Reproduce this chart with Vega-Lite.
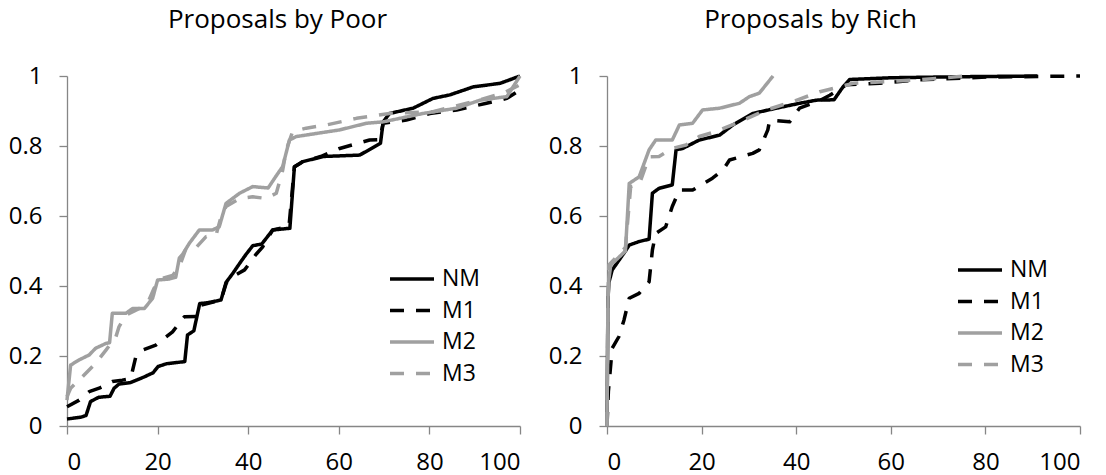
{
  "$schema": "https://vega.github.io/schema/vega-lite/v6.json",
  "padding": {"left": 8, "top": 7, "right": 5, "bottom": 5},
  "spacing": 26,
  "config": {
    "view": {"stroke": null},
    "font": "Open Sans",
    "axis": {
      "grid": false,
      "domainColor": "#868686",
      "tickColor": "#868686",
      "domainWidth": 1.3,
      "tickWidth": 1.3,
      "tickSize": 8,
      "labelPadding": 17,
      "labelFont": "Open Sans",
      "labelFontSize": 24,
      "labelColor": "#000000",
      "title": null
    },
    "axisX": {"labelPadding": 16},
    "title": {"font": "Open Sans", "fontSize": 26, "fontWeight": "normal", "color": "#000000", "anchor": "middle", "baseline": "alphabetic"},
    "legend": {
      "orient": "none",
      "title": null,
      "symbolType": "M-2,0H2",
      "symbolSize": 484,
      "symbolStrokeWidth": 3.5,
      "labelFont": "Open Sans",
      "labelFontSize": 23,
      "labelColor": "#000000",
      "labelOffset": 17,
      "rowPadding": 6.5
    }
  },
  "datasets": {
    "poor": [
      {"series": "NM", "x": 0, "y": 0.02}, {"series": "NM", "x": 3, "y": 0.025}, {"series": "NM", "x": 4.2, "y": 0.03}, {"series": "NM", "x": 5.2, "y": 0.07}, {"series": "NM", "x": 7, "y": 0.082}, {"series": "NM", "x": 9.5, "y": 0.085}, {"series": "NM", "x": 10.4, "y": 0.108}, {"series": "NM", "x": 11.5, "y": 0.12}, {"series": "NM", "x": 14, "y": 0.124}, {"series": "NM", "x": 17, "y": 0.14}, {"series": "NM", "x": 19, "y": 0.152}, {"series": "NM", "x": 20.1, "y": 0.17}, {"series": "NM", "x": 22, "y": 0.178}, {"series": "NM", "x": 26, "y": 0.184}, {"series": "NM", "x": 26.6, "y": 0.26}, {"series": "NM", "x": 28, "y": 0.272}, {"series": "NM", "x": 29.3, "y": 0.35}, {"series": "NM", "x": 31, "y": 0.352}, {"series": "NM", "x": 34, "y": 0.36}, {"series": "NM", "x": 35.1, "y": 0.41}, {"series": "NM", "x": 36.6, "y": 0.436}, {"series": "NM", "x": 38.4, "y": 0.47}, {"series": "NM", "x": 39.5, "y": 0.49}, {"series": "NM", "x": 41, "y": 0.515}, {"series": "NM", "x": 43, "y": 0.52}, {"series": "NM", "x": 45.4, "y": 0.56}, {"series": "NM", "x": 49.2, "y": 0.565}, {"series": "NM", "x": 50.2, "y": 0.741}, {"series": "NM", "x": 52, "y": 0.755}, {"series": "NM", "x": 56.5, "y": 0.77}, {"series": "NM", "x": 64.6, "y": 0.774}, {"series": "NM", "x": 66.8, "y": 0.79}, {"series": "NM", "x": 69.2, "y": 0.808}, {"series": "NM", "x": 69.8, "y": 0.869}, {"series": "NM", "x": 71.2, "y": 0.893}, {"series": "NM", "x": 76.4, "y": 0.908}, {"series": "NM", "x": 80.8, "y": 0.936}, {"series": "NM", "x": 84.5, "y": 0.946}, {"series": "NM", "x": 89.7, "y": 0.969}, {"series": "NM", "x": 95.6, "y": 0.979}, {"series": "NM", "x": 100, "y": 1.0},
      {"series": "M1", "x": 0, "y": 0.055}, {"series": "M1", "x": 2.7, "y": 0.074}, {"series": "M1", "x": 4.9, "y": 0.098}, {"series": "M1", "x": 7.1, "y": 0.108}, {"series": "M1", "x": 10, "y": 0.127}, {"series": "M1", "x": 12.2, "y": 0.131}, {"series": "M1", "x": 14, "y": 0.135}, {"series": "M1", "x": 14.5, "y": 0.16}, {"series": "M1", "x": 15.2, "y": 0.198}, {"series": "M1", "x": 16.7, "y": 0.217}, {"series": "M1", "x": 19.6, "y": 0.231}, {"series": "M1", "x": 23.3, "y": 0.269}, {"series": "M1", "x": 25.9, "y": 0.312}, {"series": "M1", "x": 28.5, "y": 0.313}, {"series": "M1", "x": 29.5, "y": 0.345}, {"series": "M1", "x": 31, "y": 0.35}, {"series": "M1", "x": 34, "y": 0.36}, {"series": "M1", "x": 35.2, "y": 0.41}, {"series": "M1", "x": 37, "y": 0.43}, {"series": "M1", "x": 39.2, "y": 0.446}, {"series": "M1", "x": 41.7, "y": 0.49}, {"series": "M1", "x": 43.2, "y": 0.512}, {"series": "M1", "x": 45.4, "y": 0.56}, {"series": "M1", "x": 49, "y": 0.57}, {"series": "M1", "x": 50.2, "y": 0.74}, {"series": "M1", "x": 52, "y": 0.755}, {"series": "M1", "x": 56, "y": 0.77}, {"series": "M1", "x": 60.2, "y": 0.793}, {"series": "M1", "x": 66.8, "y": 0.817}, {"series": "M1", "x": 69, "y": 0.818}, {"series": "M1", "x": 69.8, "y": 0.865}, {"series": "M1", "x": 74.9, "y": 0.874}, {"series": "M1", "x": 80.1, "y": 0.893}, {"series": "M1", "x": 86, "y": 0.903}, {"series": "M1", "x": 92.6, "y": 0.922}, {"series": "M1", "x": 97.1, "y": 0.936}, {"series": "M1", "x": 100, "y": 0.96},
      {"series": "M2", "x": 0, "y": 0.074}, {"series": "M2", "x": 0.8, "y": 0.174}, {"series": "M2", "x": 2.7, "y": 0.189}, {"series": "M2", "x": 4.9, "y": 0.203}, {"series": "M2", "x": 6.3, "y": 0.222}, {"series": "M2", "x": 8.6, "y": 0.236}, {"series": "M2", "x": 9.4, "y": 0.238}, {"series": "M2", "x": 10, "y": 0.322}, {"series": "M2", "x": 13, "y": 0.322}, {"series": "M2", "x": 14.5, "y": 0.336}, {"series": "M2", "x": 17.1, "y": 0.336}, {"series": "M2", "x": 18.9, "y": 0.365}, {"series": "M2", "x": 20, "y": 0.417}, {"series": "M2", "x": 22.6, "y": 0.42}, {"series": "M2", "x": 24, "y": 0.425}, {"series": "M2", "x": 24.8, "y": 0.48}, {"series": "M2", "x": 25.5, "y": 0.49}, {"series": "M2", "x": 27, "y": 0.522}, {"series": "M2", "x": 29.2, "y": 0.56}, {"series": "M2", "x": 32.1, "y": 0.56}, {"series": "M2", "x": 33.6, "y": 0.569}, {"series": "M2", "x": 35.1, "y": 0.636}, {"series": "M2", "x": 38.1, "y": 0.665}, {"series": "M2", "x": 41, "y": 0.684}, {"series": "M2", "x": 44.4, "y": 0.68}, {"series": "M2", "x": 46.2, "y": 0.715}, {"series": "M2", "x": 47.6, "y": 0.741}, {"series": "M2", "x": 49.1, "y": 0.817}, {"series": "M2", "x": 50.6, "y": 0.827}, {"series": "M2", "x": 60.2, "y": 0.846}, {"series": "M2", "x": 66.1, "y": 0.865}, {"series": "M2", "x": 69.8, "y": 0.869}, {"series": "M2", "x": 78.6, "y": 0.893}, {"series": "M2", "x": 86, "y": 0.908}, {"series": "M2", "x": 91.2, "y": 0.931}, {"series": "M2", "x": 97.1, "y": 0.941}, {"series": "M2", "x": 100, "y": 1.0},
      {"series": "M3", "x": 0, "y": 0.084}, {"series": "M3", "x": 0.8, "y": 0.108}, {"series": "M3", "x": 3.4, "y": 0.141}, {"series": "M3", "x": 6.3, "y": 0.179}, {"series": "M3", "x": 8.6, "y": 0.217}, {"series": "M3", "x": 10.8, "y": 0.255}, {"series": "M3", "x": 11.5, "y": 0.284}, {"series": "M3", "x": 13, "y": 0.317}, {"series": "M3", "x": 16, "y": 0.336}, {"series": "M3", "x": 18.1, "y": 0.36}, {"series": "M3", "x": 19.2, "y": 0.393}, {"series": "M3", "x": 21.1, "y": 0.422}, {"series": "M3", "x": 23.3, "y": 0.43}, {"series": "M3", "x": 24.8, "y": 0.455}, {"series": "M3", "x": 26.3, "y": 0.508}, {"series": "M3", "x": 28.5, "y": 0.51}, {"series": "M3", "x": 30.7, "y": 0.541}, {"series": "M3", "x": 32.9, "y": 0.545}, {"series": "M3", "x": 34, "y": 0.598}, {"series": "M3", "x": 35.1, "y": 0.627}, {"series": "M3", "x": 38.1, "y": 0.65}, {"series": "M3", "x": 41, "y": 0.655}, {"series": "M3", "x": 44, "y": 0.65}, {"series": "M3", "x": 46.2, "y": 0.665}, {"series": "M3", "x": 47.6, "y": 0.73}, {"series": "M3", "x": 48.4, "y": 0.789}, {"series": "M3", "x": 49.8, "y": 0.841}, {"series": "M3", "x": 52.8, "y": 0.851}, {"series": "M3", "x": 57.2, "y": 0.86}, {"series": "M3", "x": 63.9, "y": 0.879}, {"series": "M3", "x": 71.2, "y": 0.893}, {"series": "M3", "x": 80.8, "y": 0.898}, {"series": "M3", "x": 89.7, "y": 0.927}, {"series": "M3", "x": 96.3, "y": 0.951}, {"series": "M3", "x": 100, "y": 0.975}
    ],
    "rich": [
      {"series": "NM", "x": 0, "y": 0}, {"series": "NM", "x": 0.2, "y": 0.36}, {"series": "NM", "x": 0.4, "y": 0.41}, {"series": "NM", "x": 1.1, "y": 0.446}, {"series": "NM", "x": 3.9, "y": 0.5}, {"series": "NM", "x": 4.7, "y": 0.517}, {"series": "NM", "x": 6.8, "y": 0.527}, {"series": "NM", "x": 8.9, "y": 0.534}, {"series": "NM", "x": 9.6, "y": 0.665}, {"series": "NM", "x": 11, "y": 0.679}, {"series": "NM", "x": 13.8, "y": 0.689}, {"series": "NM", "x": 14.6, "y": 0.789}, {"series": "NM", "x": 16, "y": 0.793}, {"series": "NM", "x": 19.5, "y": 0.817}, {"series": "NM", "x": 23.8, "y": 0.831}, {"series": "NM", "x": 26.6, "y": 0.86}, {"series": "NM", "x": 30.8, "y": 0.893}, {"series": "NM", "x": 35.8, "y": 0.908}, {"series": "NM", "x": 40.7, "y": 0.922}, {"series": "NM", "x": 44.3, "y": 0.931}, {"series": "NM", "x": 48, "y": 0.932}, {"series": "NM", "x": 49.9, "y": 0.969}, {"series": "NM", "x": 51.3, "y": 0.99}, {"series": "NM", "x": 60, "y": 0.995}, {"series": "NM", "x": 75, "y": 0.998}, {"series": "NM", "x": 91, "y": 1.0},
      {"series": "M1", "x": 0, "y": 0}, {"series": "M1", "x": 0.3, "y": 0.1}, {"series": "M1", "x": 1.1, "y": 0.222}, {"series": "M1", "x": 2.5, "y": 0.255}, {"series": "M1", "x": 3.6, "y": 0.303}, {"series": "M1", "x": 4.7, "y": 0.365}, {"series": "M1", "x": 6.8, "y": 0.379}, {"series": "M1", "x": 8.9, "y": 0.412}, {"series": "M1", "x": 9.6, "y": 0.503}, {"series": "M1", "x": 10.3, "y": 0.55}, {"series": "M1", "x": 12.4, "y": 0.569}, {"series": "M1", "x": 13.8, "y": 0.627}, {"series": "M1", "x": 15.3, "y": 0.674}, {"series": "M1", "x": 18.1, "y": 0.674}, {"series": "M1", "x": 22.3, "y": 0.708}, {"series": "M1", "x": 24.5, "y": 0.731}, {"series": "M1", "x": 25.9, "y": 0.76}, {"series": "M1", "x": 30.8, "y": 0.779}, {"series": "M1", "x": 32.2, "y": 0.789}, {"series": "M1", "x": 34, "y": 0.846}, {"series": "M1", "x": 34.4, "y": 0.874}, {"series": "M1", "x": 38.6, "y": 0.869}, {"series": "M1", "x": 40.7, "y": 0.908}, {"series": "M1", "x": 45, "y": 0.93}, {"series": "M1", "x": 47.1, "y": 0.945}, {"series": "M1", "x": 50.6, "y": 0.975}, {"series": "M1", "x": 57.7, "y": 0.979}, {"series": "M1", "x": 66.2, "y": 0.989}, {"series": "M1", "x": 80.3, "y": 0.997}, {"series": "M1", "x": 100, "y": 1.0},
      {"series": "M2", "x": 0, "y": 0}, {"series": "M2", "x": 0.2, "y": 0.36}, {"series": "M2", "x": 0.4, "y": 0.42}, {"series": "M2", "x": 0.8, "y": 0.46}, {"series": "M2", "x": 3.9, "y": 0.5}, {"series": "M2", "x": 4.7, "y": 0.693}, {"series": "M2", "x": 6.8, "y": 0.712}, {"series": "M2", "x": 8.9, "y": 0.789}, {"series": "M2", "x": 10.3, "y": 0.817}, {"series": "M2", "x": 13.8, "y": 0.817}, {"series": "M2", "x": 15.3, "y": 0.86}, {"series": "M2", "x": 18.1, "y": 0.865}, {"series": "M2", "x": 20.2, "y": 0.903}, {"series": "M2", "x": 23.8, "y": 0.908}, {"series": "M2", "x": 28, "y": 0.922}, {"series": "M2", "x": 30.1, "y": 0.941}, {"series": "M2", "x": 32.2, "y": 0.951}, {"series": "M2", "x": 35.1, "y": 1.0},
      {"series": "M3", "x": 0, "y": 0}, {"series": "M3", "x": 0.2, "y": 0.37}, {"series": "M3", "x": 0.4, "y": 0.46}, {"series": "M3", "x": 3.9, "y": 0.51}, {"series": "M3", "x": 5, "y": 0.684}, {"series": "M3", "x": 6.8, "y": 0.69}, {"series": "M3", "x": 8.9, "y": 0.769}, {"series": "M3", "x": 11, "y": 0.77}, {"series": "M3", "x": 13.8, "y": 0.793}, {"series": "M3", "x": 16.7, "y": 0.803}, {"series": "M3", "x": 19.5, "y": 0.827}, {"series": "M3", "x": 23, "y": 0.841}, {"series": "M3", "x": 27.3, "y": 0.865}, {"series": "M3", "x": 33.7, "y": 0.903}, {"series": "M3", "x": 39.3, "y": 0.927}, {"series": "M3", "x": 45, "y": 0.955}, {"series": "M3", "x": 49.2, "y": 0.969}, {"series": "M3", "x": 52, "y": 0.979}, {"series": "M3", "x": 66, "y": 0.989}, {"series": "M3", "x": 76, "y": 1.0}
    ]
  },
  "hconcat": [
    {
      "title": {"text": "Proposals by Poor", "dx": -16, "offset": 31},
      "width": 453,
      "height": 350,
      "data": {"name": "poor"},
      "mark": {"type": "line", "strokeWidth": 3.5, "strokeJoin": "round"},
      "encoding": {
        "x": {"field": "x", "type": "quantitative", "scale": {"domain": [0, 100], "nice": false}, "axis": {"values": [0, 20, 40, 60, 80, 100]}},
        "y": {"field": "y", "type": "quantitative", "scale": {"domain": [0, 1], "nice": false}, "axis": {"values": [0, 0.2, 0.4, 0.6, 0.8, 1], "format": "~g"}},
        "color": {"field": "series", "type": "nominal", "sort": ["NM", "M1", "M2", "M3"], "scale": {"domain": ["NM", "M1", "M2", "M3"], "range": ["#000000", "#000000", "#a0a0a0", "#a0a0a0"]}, "legend": {"legendX": 332, "legendY": 190}},
        "strokeDash": {"field": "series", "type": "nominal", "sort": ["NM", "M1", "M2", "M3"], "scale": {"domain": ["NM", "M1", "M2", "M3"], "range": [[1, 0], [14, 12], [1, 0], [14, 12]]}, "legend": {"legendX": 332, "legendY": 190}}
      }
    },
    {
      "title": {"text": "Proposals by Rich", "dx": -33, "offset": 31},
      "width": 473,
      "height": 350,
      "data": {"name": "rich"},
      "mark": {"type": "line", "strokeWidth": 3.5, "strokeJoin": "round"},
      "encoding": {
        "x": {"field": "x", "type": "quantitative", "scale": {"domain": [0, 100], "nice": false}, "axis": {"values": [0, 20, 40, 60, 80, 100]}},
        "y": {"field": "y", "type": "quantitative", "scale": {"domain": [0, 1], "nice": false}, "axis": {"values": [0, 0.2, 0.4, 0.6, 0.8, 1], "format": "~g"}},
        "color": {"field": "series", "type": "nominal", "sort": ["NM", "M1", "M2", "M3"], "scale": {"domain": ["NM", "M1", "M2", "M3"], "range": ["#000000", "#000000", "#a0a0a0", "#a0a0a0"]}, "legend": {"legendX": 360, "legendY": 181}},
        "strokeDash": {"field": "series", "type": "nominal", "sort": ["NM", "M1", "M2", "M3"], "scale": {"domain": ["NM", "M1", "M2", "M3"], "range": [[1, 0], [14, 12], [1, 0], [14, 12]]}, "legend": {"legendX": 360, "legendY": 181}}
      }
    }
  ],
  "resolve": {"scale": {"color": "independent", "strokeDash": "independent", "x": "independent", "y": "independent"}, "legend": {"color": "independent", "strokeDash": "independent"}}
}
